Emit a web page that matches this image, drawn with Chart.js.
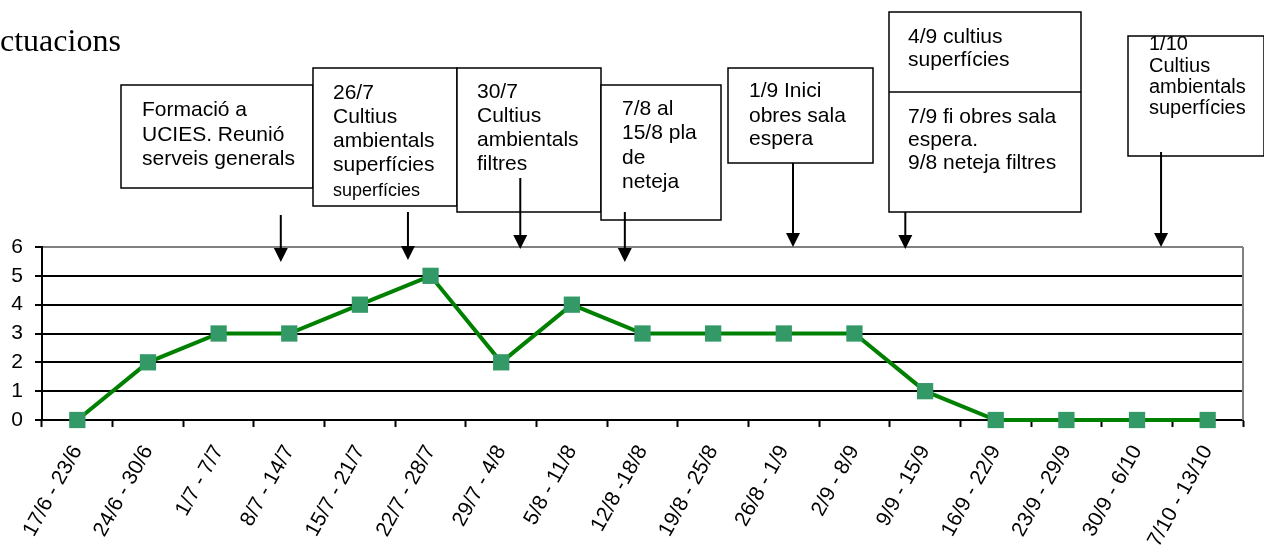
<!DOCTYPE html>
<html>
<head>
<meta charset="utf-8">
<script src="https://cdn.jsdelivr.net/npm/chart.js@4"></script>
<style>
  body { margin: 0; background: #fff; }
  #wrap { width: 1264px; height: 548px; position: relative; }
</style>
</head>
<body>
<div id="wrap"><canvas id="grafic"></canvas></div>
<script>
// setmanes i nombre de casos
var setmanes = ["17/6 - 23/6", "24/6 - 30/6", "1/7 - 7/7", "8/7 - 14/7", "15/7 - 21/7",
  "22/7 - 28/7", "29/7 - 4/8", "5/8 - 11/8", "12/8 -18/8", "19/8 - 25/8", "26/8 - 1/9",
  "2/9 - 8/9", "9/9 - 15/9", "16/9 - 22/9", "23/9 - 29/9", "30/9 - 6/10", "7/10 - 13/10"];
var casos = [0, 2, 3, 3, 4, 5, 2, 4, 3, 3, 3, 3, 1, 0, 0, 0, 0];
var ticksY = [0, 1, 2, 3, 4, 5, 6];

// actuacions: text de cada quadre i on cau la fletxa (index de setmana, amb decimals)
var actuacioText = [
  ["Formació a", "UCIES. Reunió", "serveis generals"],
  ["26/7", "Cultius", "ambientals", "superfícies", "superfícies"],
  ["30/7", "Cultius", "ambientals", "filtres"],
  ["7/8 al", "15/8 pla", "de", "neteja"],
  ["1/9 Inici", "obres sala", "espera"],
  ["4/9 cultius", "superfícies", "|", "7/9 fi obres sala", "espera.", "9/8 neteja filtres"],
  ["1/10", "Cultius", "ambientals", "superfícies"]
];
var actuacioSetmana = [2.88, 4.68, 6.27, 7.75, 10.13, 11.72, 15.34];

// disposició dels quadres (pixels)
var quadres = [
  { x: 121, y: 85, w: 192, h: 103, tx: 142, ty: [110, 135, 159], arrowTop: 215, tip: 262 },
  { x: 313, y: 68, w: 144, h: 138, tx: 333, ty: [93, 117, 141, 165, 191], small: 4, arrowTop: 212, tip: 260 },
  { x: 457, y: 68, w: 144, h: 144, tx: 477, ty: [92, 116, 140, 164], arrowTop: 178, tip: 249 },
  { x: 601, y: 85, w: 120, h: 135, tx: 622, ty: [109, 133, 158, 182], arrowTop: 212, tip: 262 },
  { x: 728, y: 68, w: 145, h: 95, tx: 749, ty: [91, 116, 139], arrowTop: 163, tip: 247 },
  { x: 889, y: 12, w: 192, h: 200, tx: 908, ty: [37, 60, 92, 117, 140, 163], arrowTop: 212, tip: 249 },
  { x: 1128, y: 36, w: 136, h: 120, tx: 1149, ty: [44, 66, 87, 108], arrowTop: 152, tip: 247 }
];

var fontSans = '"Liberation Sans", Arial, sans-serif';

var pluginActuacions = {
  id: "actuacions",
  afterDraw: function (chart) {
    var ctx = chart.ctx;
    var area = chart.chartArea;
    var xs = chart.scales.x;
    ctx.save();

    // vora dreta grisa
    ctx.strokeStyle = "#808080";
    ctx.lineWidth = 2;
    ctx.beginPath();
    ctx.moveTo(area.right, area.top);
    ctx.lineTo(area.right, area.bottom);
    ctx.stroke();

    // títol retallat
    ctx.fillStyle = "#000";
    ctx.font = '32px "Liberation Serif", "Times New Roman", serif';
    ctx.textBaseline = "alphabetic";
    ctx.textAlign = "left";
    ctx.fillText("ctuacions", 0, 51);

    for (var i = 0; i < quadres.length; i++) {
      var q = quadres[i];
      ctx.fillStyle = "#fff";
      ctx.fillRect(q.x, q.y, q.w, q.h);
      ctx.strokeStyle = "#000";
      ctx.lineWidth = 1.5;
      ctx.strokeRect(q.x, q.y, q.w, q.h);

      ctx.save();
      ctx.beginPath();
      ctx.rect(q.x, q.y, q.w, q.h);
      ctx.clip();
      ctx.fillStyle = "#000";
      ctx.textBaseline = "middle";
      var linies = actuacioText[i];
      for (var j = 0; j < linies.length; j++) {
        if (linies[j] === "|") {
          // separador entre les dues parts del quadre
          ctx.beginPath();
          ctx.moveTo(q.x, q.ty[j]);
          ctx.lineTo(q.x + q.w, q.ty[j]);
          ctx.stroke();
          continue;
        }
        ctx.font = (q.small === j ? "18px " : (i === 6 ? "20px " : "21px ")) + fontSans;
        ctx.fillText(linies[j], q.tx, q.ty[j]);
      }
      ctx.restore();
    }

    // fletxes
    for (var k = 0; k < actuacioSetmana.length; k++) {
      var x = xs.getPixelForValue(actuacioSetmana[k]);
      var qq = quadres[k];
      ctx.strokeStyle = "#000";
      ctx.fillStyle = "#000";
      ctx.lineWidth = 2;
      ctx.beginPath();
      ctx.moveTo(x, qq.arrowTop);
      ctx.lineTo(x, qq.tip - 12);
      ctx.stroke();
      ctx.beginPath();
      ctx.moveTo(x - 7, qq.tip - 14);
      ctx.lineTo(x + 7, qq.tip - 14);
      ctx.lineTo(x, qq.tip);
      ctx.closePath();
      ctx.fill();
    }
    ctx.restore();
  }
};

var ctx = document.getElementById("grafic");
var grafic = new Chart(ctx, {
  type: "line",
  data: {
    labels: setmanes,
    datasets: [{
      data: casos,
      borderColor: "#008000",
      borderWidth: 4,
      tension: 0,
      pointStyle: "rect",
      pointRadius: 11.5,
      pointHoverRadius: 11.5,
      pointBackgroundColor: "#339966",
      pointBorderColor: "#339966",
      pointBorderWidth: 0,
      clip: false
    }]
  },
  options: {
    responsive: true,
    maintainAspectRatio: false,
    animation: false,
    devicePixelRatio: 1,
    layout: { padding: { top: 247, right: 21, left: 0, bottom: 0 } },
    plugins: { legend: { display: false }, tooltip: { enabled: false } },
    scales: {
      x: {
        offset: true,
        grid: { offset: true, drawOnChartArea: false, drawTicks: true, tickLength: 7, tickColor: "#000", tickWidth: 2 },
        border: { color: "#000", width: 2 },
        ticks: {
          autoSkip: false, minRotation: 61, maxRotation: 61, padding: 14,
          color: "#000", font: { family: fontSans, size: 21 }
        },
        afterFit: function (s) { s.height = 128; }
      },
      y: {
        min: 0, max: 6,
        afterBuildTicks: function (s) { s.ticks = ticksY.map(function (v) { return { value: v }; }); },
        grid: {
          color: function (c) { return c.tick && c.tick.value === 6 ? "#808080" : "#000"; },
          lineWidth: 2, tickLength: 7, tickColor: "#000", tickWidth: 2
        },
        border: { color: "#000", width: 2 },
        ticks: { padding: 12, color: "#000", font: { family: fontSans, size: 21 } },
        afterFit: function (s) { s.width = 42; }
      }
    }
  },
  plugins: [pluginActuacions]
});
</script>
</body>
</html>
